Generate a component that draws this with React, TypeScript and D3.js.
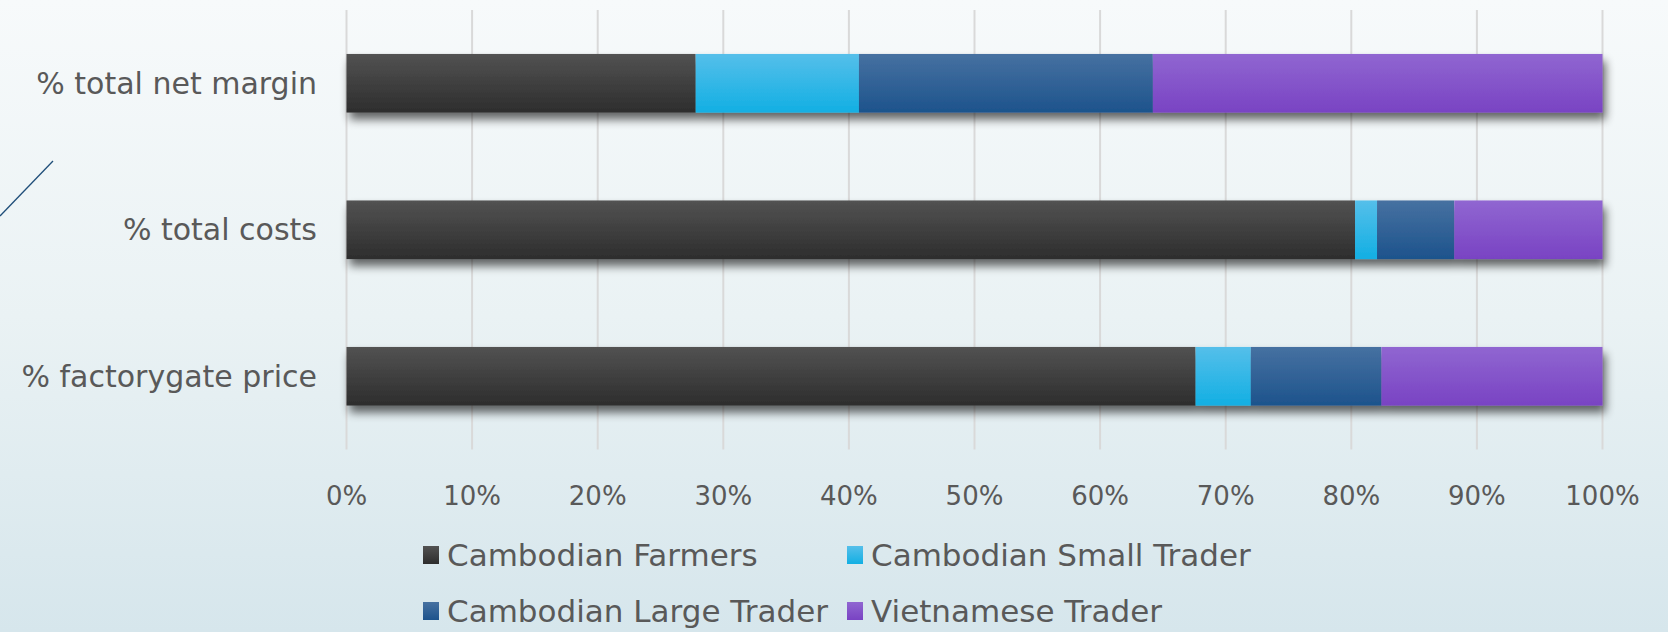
import React from "react";
import * as d3 from "d3";

const categories = ["% total net margin", "% total costs", "% factorygate price"];
const seriesNames = ["Cambodian Farmers", "Cambodian Small Trader", "Cambodian Large Trader", "Vietnamese Trader"];
const farmers = [27.8, 80.3, 67.6];
const smallTrader = [13.0, 1.75, 4.4];
const largeTrader = [23.4, 6.15, 10.4];
const vietnamese = [35.8, 11.8, 17.6];
const tickValues = [0, 10, 20, 30, 40, 50, 60, 70, 80, 90, 100];
const tickLabels = ["0%", "10%", "20%", "30%", "40%", "50%", "60%", "70%", "80%", "90%", "100%"];

const gradTop = ["#525252", "#55bfea", "#4671a1", "#9066d1"];
const gradBot = ["#2d2d2d", "#12afe3", "#1d538c", "#7943c3"];

const W = 1668;
const H = 632;
const FONT = "'DejaVu Sans', sans-serif";

export default function App() {
  const rows = categories.map((c, i) => {
    const tot = farmers[i] + smallTrader[i] + largeTrader[i] + vietnamese[i];
    return {
      cat: c,
      [seriesNames[0]]: farmers[i] / tot,
      [seriesNames[1]]: smallTrader[i] / tot,
      [seriesNames[2]]: largeTrader[i] / tot,
      [seriesNames[3]]: vietnamese[i] / tot,
    } as any;
  });
  const stacked = d3.stack<any>().keys(seriesNames)(rows);
  const x = d3.scaleLinear().domain([0, 100]).range([346.5, 1602.5]);
  const xf = (v: number) => x(v * 100);
  const y = d3.scaleBand<string>().domain(categories).range([10, 449.5]).paddingInner(0.6).paddingOuter(0.3);
  const bw = y.bandwidth();

  const legendItems = [
    { name: seriesNames[0], i: 0, lx: 423, ly: 555 },
    { name: seriesNames[1], i: 1, lx: 847, ly: 555 },
    { name: seriesNames[2], i: 2, lx: 423, ly: 611 },
    { name: seriesNames[3], i: 3, lx: 847, ly: 611 },
  ];

  return (
    <svg width={W} height={H} style={{ position: "absolute", left: 0, top: 0, display: "block" }}>
      <defs>
        <linearGradient id="bg" x1="0" y1="0" x2="0" y2="1">
          <stop offset="0" stopColor="#f7fafb" />
          <stop offset="0.5" stopColor="#eaf2f4" />
          <stop offset="1" stopColor="#d6e6ec" />
        </linearGradient>
        {seriesNames.map((s, i) => (
          <linearGradient key={s} id={`g${i}`} x1="0" y1="0" x2="0" y2="1">
            <stop offset="0" stopColor={gradTop[i]} />
            <stop offset="1" stopColor={gradBot[i]} />
          </linearGradient>
        ))}
        <filter id="shadow" x="-5%" y="-30%" width="110%" height="180%">
          <feGaussianBlur in="SourceAlpha" stdDeviation="5" />
          <feOffset dx="3" dy="7" result="ob" />
          <feComponentTransfer>
            <feFuncA type="linear" slope="0.6" />
          </feComponentTransfer>
          <feMerge>
            <feMergeNode />
            <feMergeNode in="SourceGraphic" />
          </feMerge>
        </filter>
      </defs>
      <rect x={0} y={0} width={W} height={H} fill="url(#bg)" />
      <line x1={0} y1={216} x2={53} y2={161} stroke="#1f4e79" strokeWidth={1.3} />

      {tickValues.map((t) => (
        <line key={t} x1={x(t)} x2={x(t)} y1={10} y2={449.5} stroke="#d9d9d9" strokeWidth={2} />
      ))}

      {categories.map((c, ci) => (
        <g key={c} filter="url(#shadow)">
          {stacked.map((s, si) => (
            <rect
              key={si}
              x={xf(s[ci][0])}
              y={y(c)!}
              width={xf(s[ci][1]) - xf(s[ci][0])}
              height={bw}
              fill={`url(#g${si})`}
            />
          ))}
        </g>
      ))}

      {categories.map((c) => (
        <text
          key={c}
          x={317}
          y={y(c)! + bw / 2}
          textAnchor="end"
          dominantBaseline="central"
          fontFamily={FONT}
          fontSize={30}
          fill="#595959"
        >
          {c}
        </text>
      ))}

      {tickValues.map((t, i) => (
        <text
          key={t}
          x={x(t)}
          y={496}
          textAnchor="middle"
          dominantBaseline="central"
          fontFamily={FONT}
          fontSize={26}
          fill="#595959"
        >
          {tickLabels[i]}
        </text>
      ))}

      {legendItems.map((l) => (
        <g key={l.name}>
          <rect x={l.lx} y={l.ly - 9} width={16} height={18} fill={`url(#g${l.i})`} />
          <text
            x={l.lx + 24}
            y={l.ly}
            dominantBaseline="central"
            fontFamily={FONT}
            fontSize={31}
            fill="#595959"
          >
            {l.name}
          </text>
        </g>
      ))}
    </svg>
  );
}
